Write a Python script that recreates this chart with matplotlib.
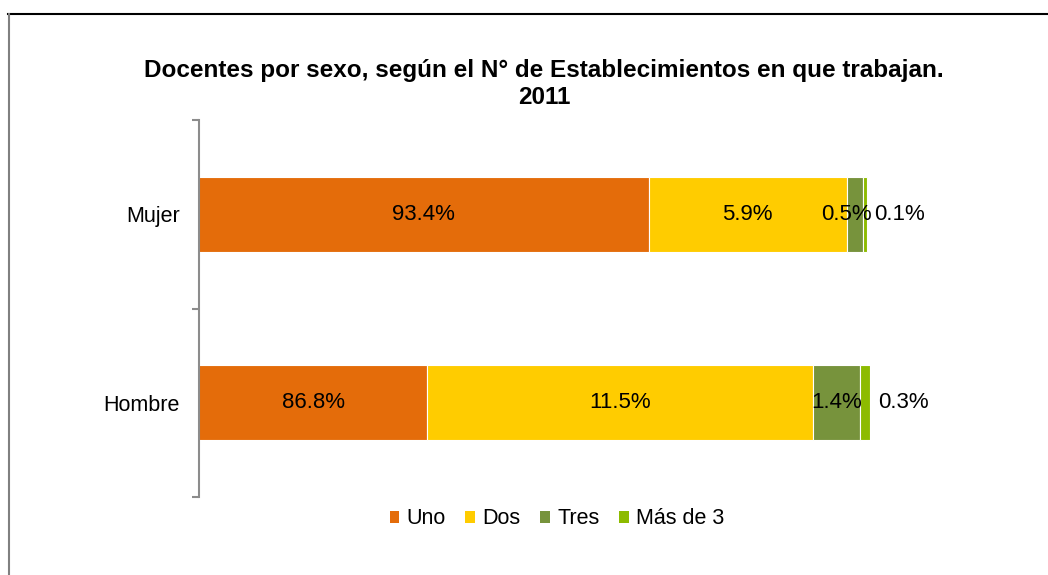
import matplotlib.pyplot as plt
from matplotlib.lines import Line2D
from matplotlib.patches import Patch

plt.rcParams['font.family'] = ['Liberation Sans', 'DejaVu Sans']

# Data (share of teachers by number of schools they work in)
sexos = ['Hombre', 'Mujer']
series = ['Uno', 'Dos', 'Tres', 'Más de 3']
valores = {
    'Uno': [86.8, 93.4],
    'Dos': [11.5, 5.9],
    'Tres': [1.4, 0.5],
    'Más de 3': [0.3, 0.1],
}
colores = ['#E46C0A', '#FFCC00', '#77933C', '#8DBB00']
xmin = 80.0  # axis starts at 80%

fig = plt.figure(figsize=(10.48, 5.75), dpi=100)
ax = fig.add_axes([199 / 1048, 1 - 497 / 575, (870 - 199) / 1048, (497 - 120) / 575])

ys = list(range(len(sexos)))
left = [0.0] * len(sexos)
for serie, color in zip(series, colores):
    vals = valores[serie]
    ax.barh(ys, vals, left=left, height=0.4, color=color,
            edgecolor='white', linewidth=0.8)
    for i, v in enumerate(vals):
        start = max(left[i], xmin)
        end = left[i] + v
        texto = f'{v:.1f}%'
        if serie == 'Más de 3':
            ax.annotate(texto, (end, i), xytext=(5.5, 0), textcoords='offset points',
                        ha='left', va='center', fontsize=16)
        else:
            dx = -6 if (serie == 'Tres' and v < 1) else 0
            ax.annotate(texto, ((start + end) / 2, i), xytext=(dx, 0),
                        textcoords='offset points',
                        ha='center', va='center', fontsize=16)
    left = [l + v for l, v in zip(left, vals)]

ax.set_xlim(xmin, 100)
ax.set_ylim(-0.5, 1.5)
ax.set_xticks([])
ax.set_yticks(ys)
ax.set_yticklabels(sexos, fontsize=15.5)
ax.set_yticks([-0.5, 0.5, 1.5], minor=True)
ax.tick_params(axis='y', which='major', length=0, pad=14)
ax.tick_params(axis='y', which='minor', length=5, width=1.5, color='#8C8C8C')
for s in ['top', 'right', 'bottom']:
    ax.spines[s].set_visible(False)
ax.spines['left'].set_color('#8C8C8C')
ax.spines['left'].set_linewidth(1.5)

fig.text(0.519, 1 - 84 / 575, 'Docentes por sexo, según el N° de Establecimientos en que trabajan.\n2011',
         ha='center', va='center', fontsize=17.5, fontweight='bold', linespacing=1.18)

handles = [Patch(facecolor=c, edgecolor='none') for c in colores]
fig.legend(handles, series, loc='center', bbox_to_anchor=(557 / 1048, 1 - 519 / 575), ncol=4,
           frameon=False, fontsize=15.5, handlelength=0.45, handleheight=0.45,
           handletextpad=0.35, columnspacing=0.9)

# chart frame (top and left edges visible)
fig.add_artist(Line2D([8 / 1048, 1], [1 - 14 / 575, 1 - 14 / 575], color='black', lw=1.5))
fig.add_artist(Line2D([8.5 / 1048, 8.5 / 1048], [0, 1 - 14 / 575], color='#808080', lw=1.5))

fig.savefig('out.png', dpi=100)
